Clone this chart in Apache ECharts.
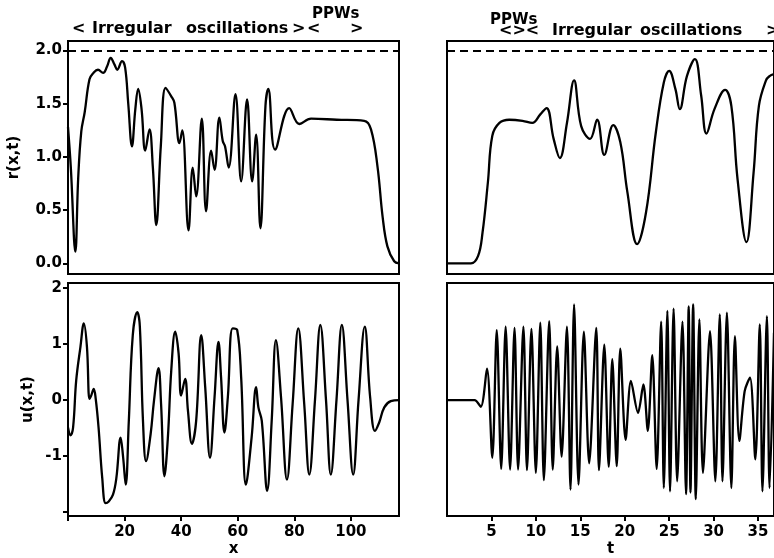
<!DOCTYPE html>
<html>
<head>
<meta charset="utf-8">
<script src="https://cdn.jsdelivr.net/npm/echarts@6/dist/echarts.min.js"></script>
<style>
  html, body { margin: 0; padding: 0; background: #fff; }
  #chart { width: 774px; height: 558px; }
</style>
</head>
<body>
<div id="chart"></div>
<script>
// r(x,t) along x at a fixed time: [x, r]
const rAlongX = [
  [0, 1.28], [1.0, 0.9], [2.6, 0.11], [3.6, 0.8], [4.7, 1.24], [5.9, 1.42], [7.6, 1.73],
  [9.0, 1.79], [10.6, 1.82], [12.4, 1.79], [13.8, 1.85], [15.1, 1.93], [16.4, 1.87],
  [17.4, 1.82], [19.1, 1.90], [20.2, 1.84], [21.3, 1.5], [22.6, 1.10], [23.8, 1.45],
  [24.8, 1.64], [26.0, 1.45], [27.3, 1.06], [28.8, 1.26], [30.0, 0.9], [31.2, 0.36],
  [32.8, 1.1], [34.5, 1.65], [36.5, 1.57], [37.6, 1.51], [39.4, 1.13], [40.4, 1.25],
  [42.6, 0.31], [44.1, 0.90], [45.3, 0.63], [47.3, 1.36], [48.8, 0.49], [50.6, 1.06],
  [51.8, 0.88], [53.5, 1.37], [54.7, 1.15], [55.5, 1.10], [56.8, 0.90], [59.2, 1.59],
  [61.2, 0.77], [63.3, 1.54], [65.1, 0.77], [66.5, 1.21], [68.0, 0.33], [69.8, 1.48],
  [70.8, 1.64], [73.2, 1.07], [78.2, 1.46], [81.8, 1.31], [85.9, 1.36], [95, 1.35],
  [104.7, 1.34], [107.1, 1.26], [109.4, 0.91], [111.2, 0.44], [112.9, 0.16],
  [115.3, 0.02], [117, 0.0]
];

// u(x,t) along x at the same time: [x, u]
const uAlongX = [
  [0, -0.49], [0.9, -0.63], [1.8, -0.49], [2.9, 0.35], [4.4, 0.95], [5.6, 1.37],
  [6.7, 0.95], [7.6, 0.02], [8.2, 0.08], [9.1, 0.2], [9.8, 0.02], [10.8, -0.49],
  [12.1, -1.39], [13.3, -1.84], [14.4, -1.81], [15.9, -1.69], [17.1, -1.39],
  [18.6, -0.67], [19.5, -1.03], [20.4, -1.51], [21.5, -0.37], [22.9, 1.16],
  [24.5, 1.57], [25.4, 1.31], [26.5, -0.37], [27.6, -1.09], [29.2, -0.61],
  [30.4, -0.01], [32.0, 0.57], [32.9, -0.07], [34.1, -1.36], [35.3, -0.67],
  [36.5, 0.53], [37.9, 1.22], [39.1, 0.83], [40.0, 0.08], [41.4, 0.38], [42.4, -0.19],
  [43.8, -0.78], [45.3, -0.37], [47.1, 1.16], [48.5, 0.23], [50.2, -1.03], [51.8, 0.05],
  [53.2, 1.04], [54.1, 0.41], [55.3, -0.58], [56.5, 0.05], [58.2, 1.28], [59.8, 1.25],
  [61.2, 0.41], [62.9, -1.51], [64.9, -0.67], [66.5, 0.23], [67.3, -0.13], [68.5, -0.37],
  [70.4, -1.62], [72.0, -0.37], [73.5, 1.07], [75.3, 0.05], [77.4, -1.42], [79.4, -0.07],
  [81.4, 1.28], [83.5, -0.07], [85.3, -1.33], [87.3, 0.0], [89.2, 1.34], [91.2, 0.0],
  [92.9, -1.33], [94.9, 0.0], [96.8, 1.34], [98.8, 0.0], [100.8, -1.33], [102.7, 0.0],
  [104.9, 1.31], [106.8, 0.05], [108.5, -0.55], [110, -0.40], [111.8, -0.13],
  [114.1, -0.02], [117, 0.0]
];

// r(x,t) in time at a fixed point: [t, r]
const rAlongT = [
  [0, 0], [2.7, 0], [3.5, 0.07], [4.0, 0.29], [4.6, 0.76], [5.1, 1.20], [5.9, 1.32],
  [7.0, 1.35], [8.5, 1.34], [9.6, 1.32], [10.5, 1.40], [11.2, 1.46], [12.0, 1.17],
  [12.7, 0.99], [13.5, 1.32], [14.3, 1.72], [15.1, 1.29], [16.1, 1.17], [16.9, 1.35],
  [17.7, 1.02], [18.7, 1.30], [19.5, 1.14], [20.3, 0.67], [21.4, 0.18], [22.4, 0.48],
  [23.5, 1.23], [24.4, 1.70], [25.0, 1.81], [25.7, 1.64], [26.2, 1.45], [27.0, 1.76],
  [27.9, 1.92], [28.6, 1.58], [29.2, 1.22], [30.1, 1.45], [31.3, 1.63], [32.0, 1.48],
  [32.7, 0.79], [33.7, 0.20], [34.5, 0.85], [35.1, 1.48], [35.9, 1.72], [36.3, 1.76],
  [36.8, 1.78]
];

// u(x,t) in time at the same point: [t, u]
const uAlongT = [
  [0, 0], [3.1, 0], [3.8, -0.12], [4.5, 0.56], [5.1, -1.03], [5.6, 1.25], [6.1, -1.23],
  [6.6, 1.31], [7.1, -1.24], [7.6, 1.29], [8.0, -1.24], [8.6, 1.31], [9.0, -1.25],
  [9.5, 1.27], [10.0, -1.30], [10.5, 1.38], [10.9, -1.43], [11.5, 1.41], [11.9, -1.24],
  [12.4, 0.96], [12.9, -1.01], [13.5, 1.31], [13.9, -1.60], [14.3, 1.71], [14.8, -1.51],
  [15.4, 1.22], [16.0, -1.13], [16.8, 1.29], [17.1, -1.25], [17.7, 0.99], [18.2, -1.19],
  [18.6, 0.73], [19.1, -1.18], [19.5, 0.92], [20.1, -0.71], [20.7, 0.34], [21.5, -0.23],
  [22.1, 0.28], [22.6, -0.55], [23.1, 0.80], [23.6, -1.23], [24.1, 1.40], [24.4, -1.57],
  [24.8, 1.59], [25.1, -1.63], [25.5, 1.63], [25.9, -1.45], [26.5, 1.40], [26.9, -1.68],
  [27.2, 1.67], [27.4, -1.65], [27.7, 1.71], [28.0, -1.77], [28.4, 1.44], [28.8, -1.30],
  [29.6, 1.23], [30.2, -1.45], [30.7, 1.53], [31.0, -1.45], [31.5, 1.56], [32.0, -1.57],
  [32.4, 1.14], [32.9, -0.73], [33.5, 0.16], [34.1, 0.40], [34.7, -1.06], [35.2, 1.35],
  [35.5, -1.63], [36.0, 1.50], [36.3, -1.57], [36.8, 1.2]
];

// tick positions and labels
const xTicks = [0, 20, 40, 60, 80, 100];
const xLabels = [20, 40, 60, 80, 100];
const tTicks = [5, 10, 15, 20, 25, 30, 35];
const rTicks = [0, 0.5, 1, 1.5, 2];
const uTicks = [-2, -1, 0, 1, 2];
const uLabels = [-1, 0, 1, 2];
const rLimit = 2.0;

const FONT = 'DejaVu Sans';
const ink = '#000';

const chart = echarts.init(document.getElementById('chart'));

const gridBox = (left, top) => ({
  left, top, width: 331, height: 233,
  show: true, borderColor: ink, borderWidth: 2, backgroundColor: 'transparent',
  containLabel: false
});

const noLine = { show: false, onZero: false };

const hiddenAxis = (gridIndex, min, max) => ({
  type: 'value', gridIndex, min, max,
  axisLine: noLine, axisTick: { show: false },
  axisLabel: { show: false }, splitLine: { show: false }
});

const tickStyle = { show: true, inside: false, length: 5, lineStyle: { color: ink, width: 2 } };
const labelStyle = { color: ink, fontFamily: FONT, fontWeight: 'bold', fontSize: 15 };
const nameStyle = { color: ink, fontFamily: FONT, fontWeight: 'bold', fontSize: 15 };

const curve = (xAxisIndex, yAxisIndex, data, extra) => Object.assign({
  type: 'line', xAxisIndex, yAxisIndex, data,
  showSymbol: false, smooth: 0.4, animation: false, silent: true,
  lineStyle: { color: ink, width: 2.3 }
}, extra || {});

const limitLine = {
  silent: true, symbol: 'none', label: { show: false },
  lineStyle: { color: ink, width: 2, type: [8, 5] },
  data: [{ yAxis: rLimit }]
};

const textEl = (x, y, text, size) => ({
  type: 'text', x, y,
  style: {
    text, fill: ink, font: `bold ${size || 16}px "${FONT}"`,
    textAlign: 'left', textVerticalAlign: 'middle'
  }
});

chart.setOption({
  animation: false,
  backgroundColor: '#fff',
  grid: [gridBox(68, 41), gridBox(68, 283), gridBox(447, 41), gridBox(447, 283)],
  xAxis: [
    hiddenAxis(0, 0, 117),
    {
      type: 'value', gridIndex: 1, min: 0, max: 117,
      axisLine: noLine, splitLine: { show: false },
      axisTick: Object.assign({ customValues: xTicks }, tickStyle),
      axisLabel: Object.assign({ customValues: xLabels, margin: 9 }, labelStyle),
      name: 'x', nameLocation: 'middle', nameGap: 26, nameTextStyle: nameStyle
    },
    hiddenAxis(2, 0, 36.8),
    {
      type: 'value', gridIndex: 3, min: 0, max: 36.8,
      axisLine: noLine, splitLine: { show: false },
      axisTick: Object.assign({ customValues: tTicks }, tickStyle),
      axisLabel: Object.assign({ customValues: tTicks, margin: 9 }, labelStyle),
      name: 't', nameLocation: 'middle', nameGap: 26, nameTextStyle: nameStyle
    }
  ],
  yAxis: [
    {
      type: 'value', gridIndex: 0, min: -0.1, max: 2.09,
      axisLine: noLine, splitLine: { show: false },
      axisTick: Object.assign({ customValues: rTicks }, tickStyle),
      axisLabel: Object.assign({ customValues: rTicks, margin: 6,
        formatter: v => v.toFixed(1) }, labelStyle),
      name: 'r(x,t)', nameLocation: 'middle', nameGap: 46, nameTextStyle: nameStyle
    },
    {
      type: 'value', gridIndex: 1, min: -2.07, max: 2.09,
      axisLine: noLine, splitLine: { show: false },
      axisTick: Object.assign({ customValues: uTicks }, tickStyle),
      axisLabel: Object.assign({ customValues: uLabels, margin: 6 }, labelStyle),
      name: 'u(x,t)', nameLocation: 'middle', nameGap: 32, nameTextStyle: nameStyle
    },
    hiddenAxis(2, -0.1, 2.09),
    hiddenAxis(3, -2.07, 2.09)
  ],
  series: [
    curve(0, 0, rAlongX, { markLine: limitLine }),
    curve(1, 1, uAlongX),
    curve(2, 2, rAlongT, { markLine: limitLine }),
    curve(3, 3, uAlongT, { smooth: 0.3 })
  ],
  graphic: [
    textEl(312, 14, 'PPWs', 15),
    textEl(72, 29, '<'),
    textEl(92, 29, 'Irregular'),
    textEl(186, 29, 'oscillations'),
    textEl(292, 29, '>'),
    textEl(307, 29, '<'),
    textEl(350, 29, '>'),
    textEl(490, 20, 'PPWs', 15),
    textEl(499, 31, '<><'),
    textEl(552, 31, 'Irregular'),
    textEl(640, 31, 'oscillations'),
    textEl(766, 31, '>')
  ]
});
</script>
</body>
</html>
